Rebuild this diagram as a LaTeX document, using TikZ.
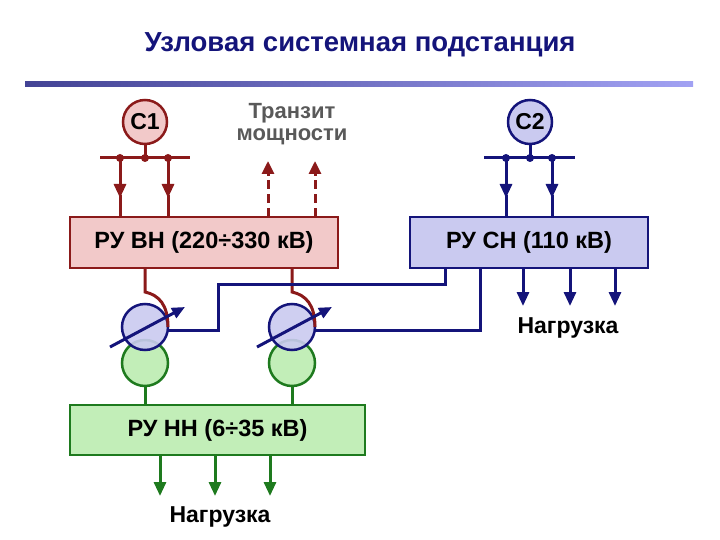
\documentclass[tikz,border=0pt]{standalone}
\usepackage{fontspec}
\setmainfont{Liberation Sans}
\usetikzlibrary{arrows.meta,shadings}
\definecolor{dred}{HTML}{8B1A1A}
\definecolor{pinkf}{HTML}{F2C9C9}
\definecolor{dblue}{HTML}{14147A}
\definecolor{lavf}{HTML}{CACAF0}
\definecolor{dgreen}{HTML}{1E7A1E}
\definecolor{greenf}{HTML}{C2EEB8}
\begin{document}
\begin{tikzpicture}[x=1pt,y=-1pt,
  box/.style={draw,line width=1.5pt,font=\bfseries\fontsize{23.5}{26}\selectfont,inner sep=0pt},
  src/.style={circle,draw,line width=2.5pt,minimum size=44pt,inner sep=0pt,font=\bfseries\fontsize{23}{26}\selectfont},
  rl/.style={dred,line width=3pt},
  bl/.style={dblue,line width=3pt},
  gl/.style={dgreen,line width=3pt},
  tip/.style={-{Triangle[length=14pt,width=12pt]}},
  dot/.style={circle,fill,inner sep=0pt,minimum size=8pt},
  lbl/.style={font=\bfseries\fontsize{23}{25}\selectfont}]
\useasboundingbox (0,0) rectangle (720,540);
\node[font=\bfseries\fontsize{27.5}{30}\selectfont,text=dblue] (title) at (360,45) {Узловая системная подстанция};
\shade[left color=dblue!80,right color=lavf!80!blue] (25,82) rectangle (693,87);
% boxes
\node[box,draw=dred,fill=pinkf,minimum width=268pt,minimum height=51pt] (vn) at (204,242.5) {РУ ВН (220÷330 кВ)};
\node[box,draw=dblue,fill=lavf,minimum width=238pt,minimum height=51pt] (sn) at (529,242.5) {РУ СН (110 кВ)};
\node[box,draw=dgreen,fill=greenf,minimum width=295pt,minimum height=50pt] (nn) at (217.5,430) {РУ НН (6÷35 кВ)};
% sources
\node[src,draw=dred,fill=pinkf] (c1) at (145,122) {С1};
\node[src,draw=dblue,fill=lavf] (c2) at (530,122) {С2};
\coordinate (b1l) at (100,158); \coordinate (b1r) at (190,158);
\coordinate (b2l) at (484,158); \coordinate (b2r) at (575,158);
\draw[rl] (b1l)--(b1r); \draw[rl] (c1.south)--(145,158);
\draw[bl] (b2l)--(b2r); \draw[bl] (c2.south)--(530,158);
\foreach \x in {120,145,168}{\node[dot,dred] (d1\x) at (\x,158) {};}
\foreach \x in {506,530,552}{\node[dot,dblue] (d2\x) at (\x,158) {};}
\foreach \x in {120,168}{\draw[rl,tip] (d1\x.center)--(\x,198); \draw[rl] (\x,195)--(\x,217);}
\foreach \x in {506,552}{\draw[bl,tip] (d2\x.center)--(\x,198); \draw[bl] (\x,195)--(\x,217);}
% transit
\node[text=black!65,align=center,font=\bfseries\fontsize{22}{22}\selectfont] (tr) at (292,124) {Транзит\\мощности};
\foreach \x in {268,315}{\draw[rl,dash pattern=on 9pt off 5pt] (\x,217)--(\x,172); \draw[dred,-{Triangle[length=13pt,width=12pt]},line width=3pt] (\x,176)--(\x,161);}
% SN loads
\foreach \x in {523,570,615}{\draw[bl,tip] (\x,268)--(\x,306);}
\node[lbl] (ld1) at (568,328) {Нагрузка};
% transformers
\foreach \x/\n in {145/a,292/b}{
  \node[circle,draw=dgreen,fill=greenf,line width=2.5pt,minimum size=46pt,inner sep=0pt] (g\n) at (\x,363) {};
  \node[circle,draw=dblue,fill=lavf,fill opacity=0.9,draw opacity=1,line width=2.5pt,minimum size=46pt,inner sep=0pt] (u\n) at (\x,327) {};
  \draw[rl] (\x,268)--(\x,292) .. controls (\x+14,295) and (\x+23,305) .. (\x+23,327);
  \draw[bl,-{Triangle[length=13pt,width=11pt]}] (\x-35,347)--(\x+40,307);
  \draw[gl] (g\n.south)--(\x,405);
}
% blue connections
\draw[bl] (445,268)--(445,284)--(218,284)--(218,330)--(ua.east |- 0,330);
\draw[bl] (480,268)--(480,330)--(ub.east |- 0,330);
% NN loads
\foreach \x in {160,215,270}{\draw[gl,tip] (\x,455)--(\x,496);}
\node[lbl] (ld2) at (220,517) {Нагрузка};
\end{tikzpicture}
\end{document}
